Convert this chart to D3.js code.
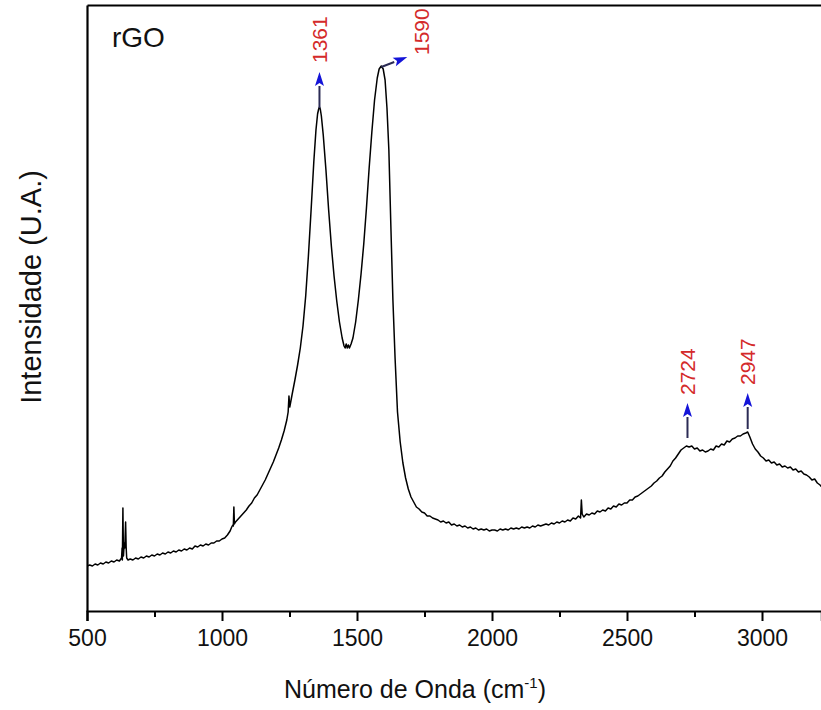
<!DOCTYPE html>
<html>
<head>
<meta charset="utf-8">
<script src="https://cdn.jsdelivr.net/npm/d3@7/dist/d3.min.js"></script>
<style>
  html, body { margin: 0; padding: 0; background: #fff; }
  svg { display: block; font-family: "Liberation Sans", Arial, sans-serif; }
</style>
</head>
<body>
<svg id="chart" width="821" height="710"></svg>
<script>
// ---- Data ----
const sampleName = "rGO";
const xTitle = "Número de Onda (cm";
const yTitle = "Intensidade (U.A.)";
const xTickValues = [500, 1000, 1500, 2000, 2500, 3000];
const xMinorTickValues = [750, 1250, 1750, 2250, 2750];

const wavenumber = [
  500,510,520,530,540,550,560,570,580,590,600,610,620,628,630,631,633,635,638,640,643,645,647,652,
  660,670,680,690,700,710,720,730,740,750,760,770,780,790,800,810,820,830,840,850,860,870,880,890,
  900,910,920,930,940,950,960,970,980,990,1000,1010,1020,1030,1036,1040,1042,1044,1046,1050,1060,
  1070,1080,1090,1100,1110,1120,1130,1140,1150,1160,1170,1180,1190,1200,1210,1220,1230,1240,1245,
  1248,1251,1260,1270,1280,1290,1300,1310,1320,1330,1340,1348,1354,1358,1361,1364,1368,1375,1385,
  1395,1405,1415,1425,1435,1445,1452,1456,1460,1464,1468,1472,1478,1485,1495,1505,1515,1525,1535,
  1545,1555,1565,1575,1582,1590,1597,1604,1611,1618,1625,1633,1641,1650,1660,1670,1680,1690,1700,
  1710,1720,1730,1740,1750,1760,1770,1780,1790,1800,1810,1820,1830,1840,1850,1860,1870,1880,1890,
  1900,1910,1920,1930,1940,1950,1960,1970,1980,1990,2000,2010,2020,2030,2040,2050,2060,2070,2080,
  2090,2100,2110,2120,2130,2140,2150,2160,2170,2180,2190,2200,2210,2220,2230,2240,2250,2260,2270,
  2280,2290,2300,2310,2320,2328,2331,2334,2340,2350,2360,2370,2380,2390,2400,2410,2420,2430,2440,
  2450,2460,2470,2480,2490,2500,2510,2520,2530,2540,2550,2560,2570,2580,2590,2600,2610,2620,2630,
  2640,2650,2660,2670,2680,2690,2700,2710,2720,2730,2740,2750,2760,2770,2780,2790,2800,2810,2820,
  2830,2840,2850,2860,2870,2880,2890,2900,2910,2920,2930,2940,2947,2955,2965,2975,2985,2995,3005,
  3015,3025,3035,3045,3055,3065,3075,3085,3095,3105,3115,3125,3135,3145,3155,3165,3175,3185,3195,
  3205,3215,3225
];
const intensity = [
  450,460,450,470,460,480,470,490,480,500,490,510,500,530,630,510,1030,550,680,630,890,640,530,510,
  520,510,530,520,540,530,550,540,560,550,570,560,580,570,590,580,600,590,610,600,620,610,630,620,
  650,640,660,650,670,660,680,680,700,700,720,730,760,800,840,860,850,1040,870,890,920,
  950,980,1010,1050,1080,1130,1160,1210,1260,1310,1370,1430,1490,1560,1630,1710,1800,1910,1990,
  2150,2040,2170,2310,2460,2630,2850,3150,3550,4010,4490,4810,4970,5020,5040,5020,4950,4760,4410,
  4010,3650,3350,3100,2890,2730,2650,2630,2670,2630,2660,2630,2670,2730,2890,3110,3370,3670,4030,
  4430,4790,5110,5330,5420,5450,5420,5310,5030,4610,3890,3110,2530,1990,1690,1480,1330,1220,1140,
  1090,1040,1020,990,980,950,950,930,920,910,890,900,880,890,860,870,850,860,840,
  850,830,840,820,830,810,820,810,820,800,810,810,800,820,810,820,810,830,820,
  830,820,840,830,840,830,850,840,860,850,860,870,860,880,870,890,880,900,890,
  910,900,930,920,950,930,1110,970,940,970,960,980,970,1000,990,1010,1000,1030,1020,
  1050,1040,1070,1060,1080,1080,1110,1110,1140,1150,1170,1190,1210,1230,1250,1280,1300,1330,1350,
  1390,1420,1450,1500,1530,1570,1610,1630,1650,1640,1650,1620,1630,1600,1610,1590,1600,1620,1610,
  1650,1640,1670,1660,1700,1690,1720,1730,1750,1750,1770,1780,1790,1740,1670,1620,1590,1550,1530,
  1500,1510,1480,1490,1460,1470,1440,1450,1430,1440,1410,1420,1390,1400,1370,1360,1340,1310,1320,
  1280,1260,1230
];

const peakPositions = [1361, 1590, 2724, 2947];
const peakLabels = ["1361", "1590", "2724", "2947"];
const arrowBaseIntensity = [5030, 5440, 1730, 1820];

// ---- Layout ----
const plotLeft = 87, plotTop = 5, plotBottom = 611;
const xScale = d3.scaleLinear().domain([500, 3220]).range([plotLeft, plotLeft + 2720 * 0.27]);
const yScale = d3.scaleLinear().domain([0, 6060]).range([plotBottom, plotTop]);
const plotRight = xScale.range()[1];

const svg = d3.select("#chart");
const data = wavenumber.map((w, i) => ({ w, v: intensity[i] }));

svg.append("defs").append("clipPath").attr("id", "clip")
  .append("rect").attr("x", plotLeft).attr("y", plotTop)
  .attr("width", plotRight - plotLeft).attr("height", plotBottom - plotTop);

// spectrum line
svg.append("path")
  .datum(data)
  .attr("clip-path", "url(#clip)")
  .attr("fill", "none")
  .attr("stroke", "#000")
  .attr("stroke-width", 1.5)
  .attr("stroke-linejoin", "round")
  .attr("d", d3.line().x(d => xScale(d.w)).y(d => yScale(d.v)));

// x axis (major)
const xAxis = svg.append("g")
  .attr("transform", `translate(0,${plotBottom})`)
  .call(d3.axisBottom(xScale).tickValues(xTickValues).tickSize(10).tickPadding(9).tickFormat(d3.format("d")));
xAxis.select(".domain").attr("stroke-width", 2.2).attr("stroke", "#000");
xAxis.selectAll(".tick line").attr("stroke-width", 2).attr("stroke", "#000");
xAxis.selectAll(".tick text").attr("font-size", 23).attr("fill", "#111")
  .attr("font-family", "'Liberation Sans', Arial, sans-serif");

// x axis (minor)
const xMinor = svg.append("g")
  .attr("transform", `translate(0,${plotBottom})`)
  .call(d3.axisBottom(xScale).tickValues(xMinorTickValues).tickSize(6).tickFormat(""));
xMinor.select(".domain").remove();
xMinor.selectAll(".tick line").attr("stroke-width", 2).attr("stroke", "#000");

// left axis (no ticks)
const yAxis = svg.append("g")
  .attr("transform", `translate(${plotLeft},0)`)
  .call(d3.axisLeft(yScale).tickValues([]).tickSizeOuter(0));
yAxis.select(".domain").attr("stroke-width", 2.2).attr("stroke", "#000");

// top frame line
const xTop = svg.append("g")
  .attr("transform", `translate(0,${plotTop})`)
  .call(d3.axisTop(xScale).tickValues([]).tickSizeOuter(0));
xTop.select(".domain").attr("stroke-width", 2.2).attr("stroke", "#000");

// axis titles
const xt = svg.append("text")
  .attr("x", 415).attr("y", 698)
  .attr("text-anchor", "middle")
  .attr("font-size", 25).attr("fill", "#111");
xt.append("tspan").text(xTitle);
xt.append("tspan").attr("dy", -10).attr("font-size", 15).text("-1");
xt.append("tspan").attr("dy", 10).text(")");

svg.append("text")
  .attr("transform", `translate(31,287) rotate(-90)`)
  .attr("text-anchor", "middle")
  .attr("dy", "0.35em")
  .attr("font-size", 29).attr("fill", "#111")
  .text(yTitle);

// sample label
svg.append("text")
  .attr("x", 112).attr("y", 47)
  .attr("font-size", 28).attr("fill", "#111")
  .text(sampleName);

// peak annotations
const arrowVectors = [[0, -36], [26, -10], [0, -35], [0, -36]];
const labelOffsets = [[0, -9], [14, -2], [0, -8], [0, -8]];
const headLen = 14, headHalf = 4.5;

peakPositions.forEach((p, i) => {
  const bx = xScale(p), by = yScale(arrowBaseIntensity[i]);
  const [vx, vy] = arrowVectors[i];
  const tx = bx + vx, ty = by + vy;
  const len = Math.hypot(vx, vy), ux = vx / len, uy = vy / len;
  const hx = tx - ux * headLen, hy = ty - uy * headLen;
  svg.append("line")
    .attr("x1", bx).attr("y1", by).attr("x2", hx).attr("y2", hy)
    .attr("stroke", "#2b2b55").attr("stroke-width", 2);
  svg.append("polygon")
    .attr("points", [
      [tx, ty],
      [hx - uy * headHalf, hy + ux * headHalf],
      [hx + ux * 3, hy + uy * 3],
      [hx + uy * headHalf, hy - ux * headHalf]
    ].map(q => q.join(",")).join(" "))
    .attr("fill", "#1414d8");
  const lx = tx + labelOffsets[i][0], ly = ty + labelOffsets[i][1];
  svg.append("text")
    .attr("transform", `translate(${lx},${ly}) rotate(-90)`)
    .attr("text-anchor", "start")
    .attr("dy", "0.35em")
    .attr("font-size", 21)
    .attr("fill", "#d42a2a")
    .text(peakLabels[i]);
});
</script>
</body>
</html>
